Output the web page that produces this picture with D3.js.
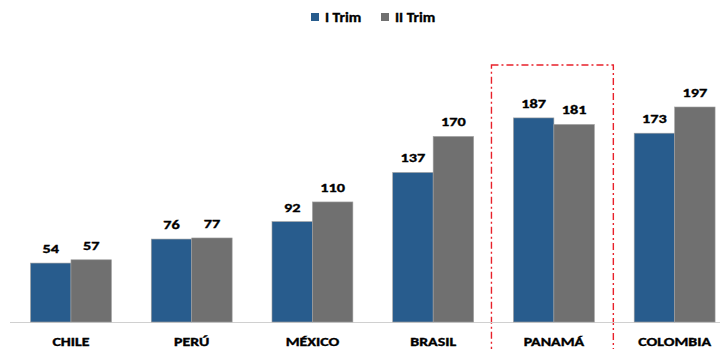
<!DOCTYPE html>
<meta charset="utf-8" />
<style>
  body { margin: 0; background: #fff; overflow: hidden; }
  svg { font-family: Calibri, Carlito, "Liberation Sans", "DejaVu Sans", sans-serif; font-weight: bold; }
  text { stroke: #000; stroke-width: 0.35px; }
</style>
<body>
<svg id="chart" width="720" height="349"></svg>
<script src="https://d3js.org/d3.v7.min.js"></script>
<script>
  var countries = ["CHILE", "PERÚ", "MÉXICO", "BRASIL", "PANAMÁ", "COLOMBIA"];
  var trim1 = [54, 76, 92, 137, 187, 173];
  var trim2 = [57, 77, 110, 170, 181, 197];
  var seriesNames = ["I Trim", "II Trim"];
  var colours = ["#285c8d", "#707070"];
  var highlight = "PANAMÁ";

  var width = 720, height = 349;
  var baseY = 322;
  var stretch = 1.27; // text in the original is widened

  var svg = d3.select("#chart");

  var x0 = d3.scaleBand().domain(countries).range([10.6, 735]).paddingInner(0.33).paddingOuter(0.165);
  var x1 = d3.scaleBand().domain(seriesNames).range([0, x0.bandwidth()]);
  var y = d3.scaleLinear().domain([0, 197]).range([baseY, baseY - 215]);

  var data = countries.map(function(c, i) {
    return { country: c, values: [trim1[i], trim2[i]] };
  });

  // highlight box
  var hb = x0(highlight);
  svg.append("rect")
    .attr("x", hb - 22)
    .attr("y", 65)
    .attr("width", x0.bandwidth() + 41)
    .attr("height", 300)
    .attr("fill", "none")
    .attr("stroke", "#e8202a")
    .attr("stroke-width", 1.4)
    .attr("stroke-dasharray", "7,3,2,3");

  // axis line
  svg.append("line")
    .attr("x1", 10).attr("x2", 720)
    .attr("y1", baseY + 0.5).attr("y2", baseY + 0.5)
    .attr("stroke", "#d0d0d0").attr("stroke-width", 1);

  var groups = svg.selectAll("g.grp").data(data).enter().append("g")
    .attr("class", "grp")
    .attr("transform", function(d) { return "translate(" + x0(d.country) + ",0)"; });

  groups.selectAll("rect").data(function(d) { return d.values; }).enter().append("rect")
    .attr("x", function(d, i) { return x1(seriesNames[i]); })
    .attr("y", function(d) { return y(d); })
    .attr("width", x1.bandwidth())
    .attr("height", function(d) { return baseY - y(d); })
    .attr("fill", function(d, i) { return colours[i]; })
    .attr("stroke", "#a0a0a0")
    .attr("stroke-width", 0.6);

  groups.selectAll("text.val").data(function(d) { return d.values; }).enter().append("text")
    .attr("class", "val")
    .attr("transform", function(d, i) {
      return "translate(" + (x1(seriesNames[i]) + x1.bandwidth() / 2) + "," + (y(d) - 10) + ") scale(" + stretch + ",1)";
    })
    .attr("text-anchor", "middle")
    .attr("font-size", 12.8)
    .attr("fill", "#000")
    .text(function(d) { return d; });

  svg.selectAll("text.cat").data(countries).enter().append("text")
    .attr("class", "cat")
    .attr("transform", function(d) {
      return "translate(" + (x0(d) + x0.bandwidth() / 2) + ",346) scale(" + stretch + ",1)";
    })
    .attr("text-anchor", "middle")
    .attr("font-size", 12.5)
    .attr("fill", "#000")
    .text(function(d) { return d; });

  // legend
  var legX = [311, 381];
  var leg = svg.selectAll("g.leg").data(seriesNames).enter().append("g")
    .attr("class", "leg")
    .attr("transform", function(d, i) { return "translate(" + legX[i] + ",13)"; });
  leg.append("rect").attr("width", 8).attr("height", 8)
    .attr("fill", function(d, i) { return colours[i]; });
  leg.append("text")
    .attr("transform", "translate(14,8.5) scale(1.1,1)")
    .attr("font-size", 14).attr("fill", "#000")
    .text(function(d) { return d; });
</script>
</body>
